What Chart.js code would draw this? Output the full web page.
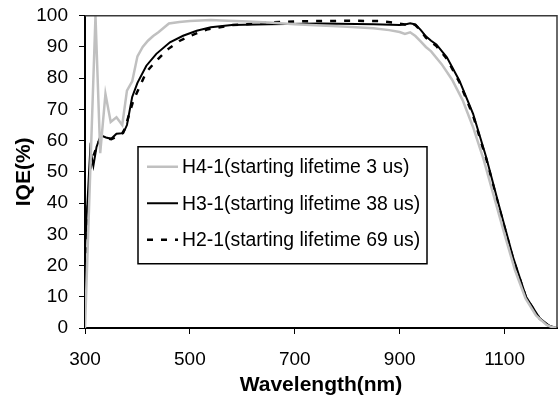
<!DOCTYPE html>
<html>
<head>
<meta charset="utf-8">
<script src="https://cdn.jsdelivr.net/npm/chart.js@4/dist/chart.umd.min.js"></script>
<style>
  html, body { margin: 0; padding: 0; background: #fff; }
  #wrap { width: 558px; height: 398px; }
</style>
</head>
<body>
<div id="wrap"><canvas id="iqe"></canvas></div>
<script>
// tick labels
const xTicks = [300, 500, 700, 900, 1100];
const yTicks = [0, 10, 20, 30, 40, 50, 60, 70, 80, 90, 100];

// H4-1 (grey)
const h4Wl  = [300, 320, 329, 339, 349, 360, 371, 380, 390, 400, 410, 420, 430, 440, 460, 480, 500, 520, 540, 560, 600, 650, 700, 750, 800, 850, 880, 900, 910, 920, 930, 940, 950, 960, 980, 1000, 1020, 1040, 1060, 1080, 1100, 1120, 1140, 1160, 1180, 1190, 1200];
const h4Iqe = [0, 100, 56, 75, 66, 67.5, 65, 76, 79, 87, 90, 92, 93.5, 94.7, 97.5, 98, 98.3, 98.5, 98.6, 98.5, 98.2, 97.8, 97.3, 96.9, 96.5, 96, 95.4, 94.8, 94.2, 94.7, 93.5, 91.8, 90, 88.6, 84.5, 79.5, 73, 64.3, 54, 42, 30, 18.5, 9.5, 4, 1, 0.3, 0];

// H3-1 (black solid)
const h3Wl  = [300, 310, 316, 322, 330, 340, 350, 360, 373, 380, 390, 400, 417, 436, 462, 487, 513, 540, 580, 650, 750, 850, 900, 910, 920, 930, 940, 950, 960, 970, 990, 1014, 1040, 1065, 1090, 1116, 1141, 1167, 1186, 1200];
const h3Iqe = [25, 57, 52, 58, 61.7, 61, 60.6, 62.2, 62.4, 65, 74, 78.5, 84, 87.8, 91.5, 93.6, 95.2, 96.3, 97, 97.3, 97.5, 97.3, 97, 97.2, 97.6, 97.2, 95.5, 93.4, 92, 90.8, 86.7, 79.2, 68.6, 54.7, 38.8, 22.8, 10, 3.1, 0.6, 0];

// H2-1 (black dashed)
const h2Wl  = [300, 305, 310, 316, 322, 330, 350, 370, 376, 392, 417, 436, 459, 481, 510, 535, 580, 650, 700, 800, 860, 890, 910, 920, 930, 940, 950, 960, 970, 990, 1014, 1040, 1065, 1090, 1116, 1141, 1167, 1186, 1200];
const h2Iqe = [15, 38, 51, 55, 58, 61, 60.5, 62, 63.8, 72.8, 82, 85.6, 89.4, 92, 94.2, 95.7, 97, 97.8, 98.2, 98.4, 98.3, 97.8, 97.2, 97.5, 97, 95.3, 93, 91.6, 90.3, 86.2, 78.7, 68, 54.2, 38.3, 22.3, 9.7, 3, 0.5, 0];

const seriesNames = ['H4-1(starting lifetime 3 us)', 'H3-1(starting lifetime 38 us)', 'H2-1(starting lifetime 69 us)'];

function pairs(xs, ys) {
  return xs.map((x, i) => ({x: x, y: ys[i]}));
}

const FONT = "'Liberation Sans', Arial, sans-serif";

// frame on top/right + legend box inside the plot
const frameAndLegend = {
  id: 'frameAndLegend',
  afterDraw(chart) {
    const ctx = chart.ctx;
    const a = chart.chartArea;
    ctx.save();
    ctx.strokeStyle = '#3a3a3a';
    ctx.lineWidth = 1.5;
    ctx.beginPath();
    ctx.moveTo(a.left, a.top);
    ctx.lineTo(a.right, a.top);
    ctx.lineTo(a.right, a.bottom);
    ctx.stroke();

    // legend
    const bx = a.left + 53, by = a.top + 131, bw = 289, bh = 117;
    ctx.fillStyle = '#fff';
    ctx.fillRect(bx, by, bw, bh);
    ctx.strokeStyle = '#000';
    ctx.lineWidth = 1.5;
    ctx.strokeRect(bx, by, bw, bh);
    ctx.font = '19.4px ' + FONT;
    ctx.textBaseline = 'middle';
    ctx.textAlign = 'left';
    chart.data.datasets.forEach((ds, i) => {
      const yy = by + 20 + i * 36.5;
      ctx.beginPath();
      ctx.strokeStyle = ds.borderColor;
      ctx.lineWidth = ds.borderWidth;
      ctx.setLineDash(ds.borderDash || []);
      ctx.moveTo(bx + 9, yy);
      ctx.lineTo(bx + 40, yy);
      ctx.stroke();
      ctx.setLineDash([]);
      ctx.fillStyle = '#000';
      ctx.fillText(ds.label, bx + 44, yy + 1);
    });
    ctx.restore();
  }
};

const data = {
  datasets: [{
    label: seriesNames[0],
    data: pairs(h4Wl, h4Iqe),
    borderColor: '#c0c0c0',
    borderWidth: 2.5
  }, {
    label: seriesNames[1],
    data: pairs(h3Wl, h3Iqe),
    borderColor: '#000',
    borderWidth: 2
  }, {
    label: seriesNames[2],
    data: pairs(h2Wl, h2Iqe),
    borderColor: '#000',
    borderWidth: 2.5,
    borderDash: [6, 8]
  }]
};

const config = {
  type: 'line',
  data: data,
  options: {
    responsive: true,
    maintainAspectRatio: false,
    animation: false,
    layout: {padding: {top: 15, right: 1, left: 0, bottom: 0}},
    elements: {
      point: {radius: 0},
      line: {tension: 0, fill: false}
    },
    plugins: {
      legend: {display: false},
      tooltip: {enabled: false}
    },
    scales: {
      x: {
        type: 'linear',
        min: 300,
        max: 1200,
        afterBuildTicks: (scale) => { scale.ticks = xTicks.map(v => ({value: v})); },
        afterFit: (scale) => { scale.height = 70; },
        grid: {drawOnChartArea: false, drawTicks: true, tickLength: 6, color: '#000'},
        border: {color: '#000', width: 2},
        ticks: {font: {family: FONT, size: 19}, color: '#000', padding: 14, maxRotation: 0,
                callback: (v) => String(v)},
        title: {
          display: true,
          text: 'Wavelength(nm)',
          font: {family: FONT, size: 21, weight: 'bold'},
          color: '#000',
          padding: {top: 1, bottom: 0}
        }
      },
      y: {
        min: 0,
        max: 100,
        afterBuildTicks: (scale) => { scale.ticks = yTicks.map(v => ({value: v})); },
        afterFit: (scale) => { scale.width = 85; },
        grid: {drawOnChartArea: false, drawTicks: true, tickLength: 6, color: '#000'},
        border: {color: '#000', width: 2},
        ticks: {font: {family: FONT, size: 19, lineHeight: 0.5}, color: '#000', padding: 11,
                callback: (v) => String(v)},
        title: {
          display: true,
          text: 'IQE(%)',
          font: {family: FONT, size: 21, weight: 'bold'},
          color: '#000',
          padding: {top: 12, bottom: 0}
        }
      }
    }
  },
  plugins: [frameAndLegend]
};

const myChart = new Chart(document.getElementById('iqe'), config);
</script>
</body>
</html>
